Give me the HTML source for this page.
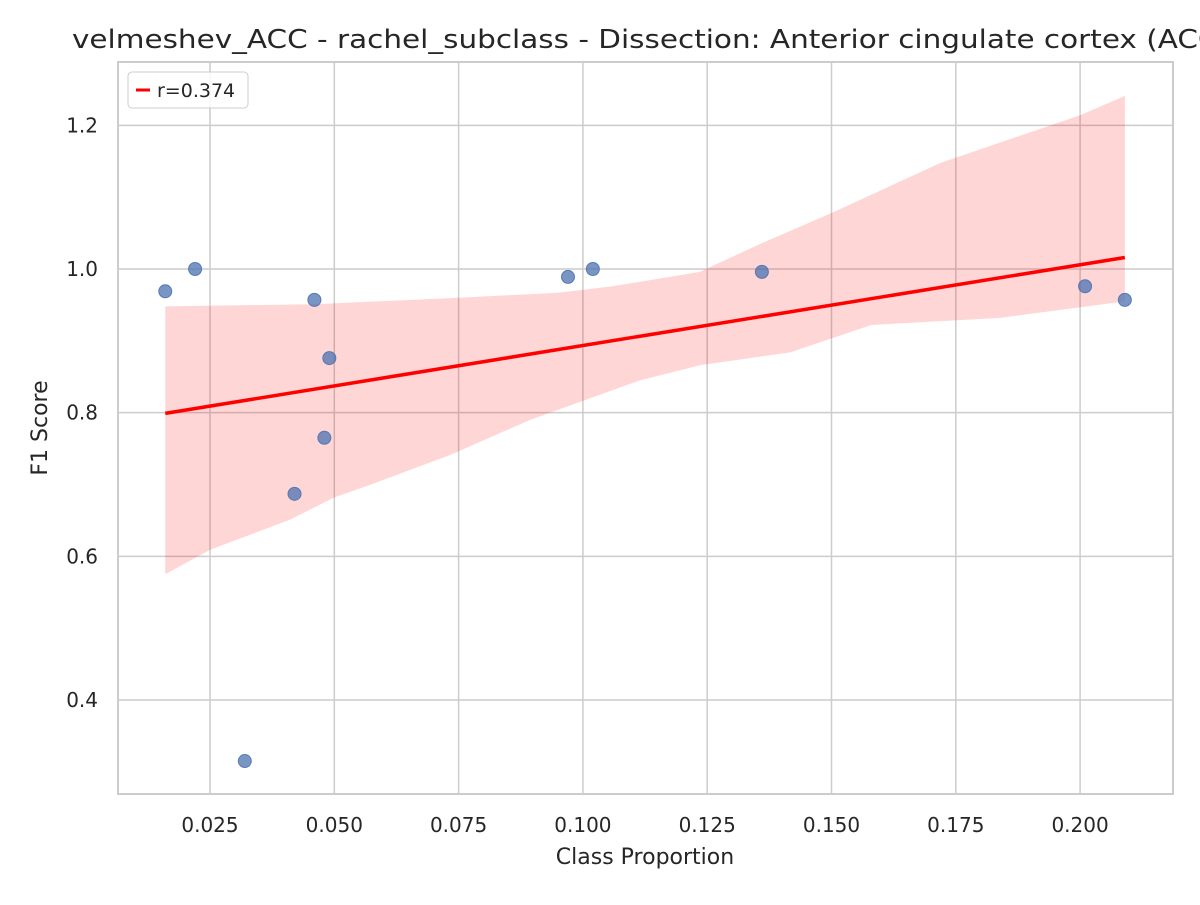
<!DOCTYPE html>
<html><head><meta charset="utf-8"><style>
body{margin:0;background:#fff;overflow:hidden;}
svg text{font-family:"DejaVu Sans","Liberation Sans",sans-serif;fill:#262626;}
</style></head><body>
<svg id="chart" width="1200" height="900">
<text x="72" y="48" font-size="26" textLength="1158" lengthAdjust="spacingAndGlyphs">velmeshev_ACC - rachel_subclass - Dissection: Anterior cingulate cortex (ACC)</text>
<g id="grid"></g>
<g id="band"></g>
<g id="pts"></g>
<g id="reg"></g>
<rect x="118" y="62" width="1055" height="732" fill="none" stroke="#cccccc" stroke-width="2"/>
<g id="ticks"></g>
<text x="645" y="864" font-size="22" text-anchor="middle">Class Proportion</text>
<text x="0" y="0" font-size="22" text-anchor="middle" transform="translate(47,428) rotate(-90)">F1 Score</text>
<g>
<rect x="128" y="72" width="120" height="36" rx="4" fill="#fff" fill-opacity="0.8" stroke="#cccccc"/>
<line x1="136" y1="90" x2="150" y2="90" stroke="red" stroke-width="3"/>
<text x="157" y="97" font-size="19">r=0.374</text>
</g>
</svg>
<script>
const xs=[0.016,0.022,0.032,0.042,0.046,0.048,0.049,0.097,0.102,0.136,0.201,0.209];
const ys=[0.969,1.0,0.315,0.687,0.957,0.765,0.876,0.989,1.0,0.996,0.976,0.957];
const regX=[0.016,0.209];
const regY=[0.799,1.016];
const upX=[0.016,0.046,0.075,0.095,0.106,0.1235,0.136,0.15,0.172,0.2,0.209];
const upY=[0.948,0.951,0.96,0.967,0.976,0.996,1.036,1.078,1.148,1.214,1.241];
const loX=[0.016,0.025,0.0411,0.05,0.057,0.0733,0.0894,0.1115,0.1235,0.1417,0.158,0.184,0.209];
const loY=[0.575,0.609,0.651,0.682,0.699,0.741,0.79,0.845,0.866,0.884,0.922,0.932,0.955];
const xTicks=[0.025,0.05,0.075,0.1,0.125,0.15,0.175,0.2];
const yTicks=[0.4,0.6,0.8,1.0,1.2];
const X=v=>210+(v-0.025)*4972, Y=v=>269-(v-1.0)*718.3;
const NS='http://www.w3.org/2000/svg';
function mk(t,p,a){const e=document.createElementNS(NS,t);for(const k in a)e.setAttribute(k,a[k]);document.getElementById(p).appendChild(e);return e;}
xTicks.forEach(v=>{
 const l=mk('line','grid',{x1:X(v),x2:X(v),y1:62,y2:794,stroke:'#cccccc','stroke-width':1.5});
 
 
 const t=mk('text','ticks',{x:X(v),y:832,'font-size':20,'text-anchor':'middle'});t.textContent=v.toFixed(3);
 
 
});
yTicks.forEach(v=>{
 const l=mk('line','grid',{x1:118,x2:1173,y1:Y(v),y2:Y(v),stroke:'#cccccc','stroke-width':1.5});
 
 
 const t=mk('text','ticks',{x:98,y:Y(v)+7,'font-size':20,'text-anchor':'end'});t.textContent=v.toFixed(1);
 
 
});
let d='M'+upX.map((x,i)=>X(x)+','+Y(upY[i])).join(' L');
for(let i=loX.length-1;i>=0;i--)d+=' L'+X(loX[i])+','+Y(loY[i]);
const b=mk('path','band',{d:d+'Z',fill:'#ff0000','fill-opacity':0.16});


xs.forEach((x,i)=>{
 const c=mk('circle','pts',{cx:X(x),cy:Y(ys[i]),r:6.5,fill:'#4c72b0','fill-opacity':0.75,stroke:'#4c72b0','stroke-opacity':0.9,'stroke-width':1});
 
 
});
const r=mk('line','reg',{x1:X(regX[0]),y1:Y(regY[0]),x2:X(regX[1]),y2:Y(regY[1]),stroke:'red','stroke-width':3.5});


</script>
</body></html>
